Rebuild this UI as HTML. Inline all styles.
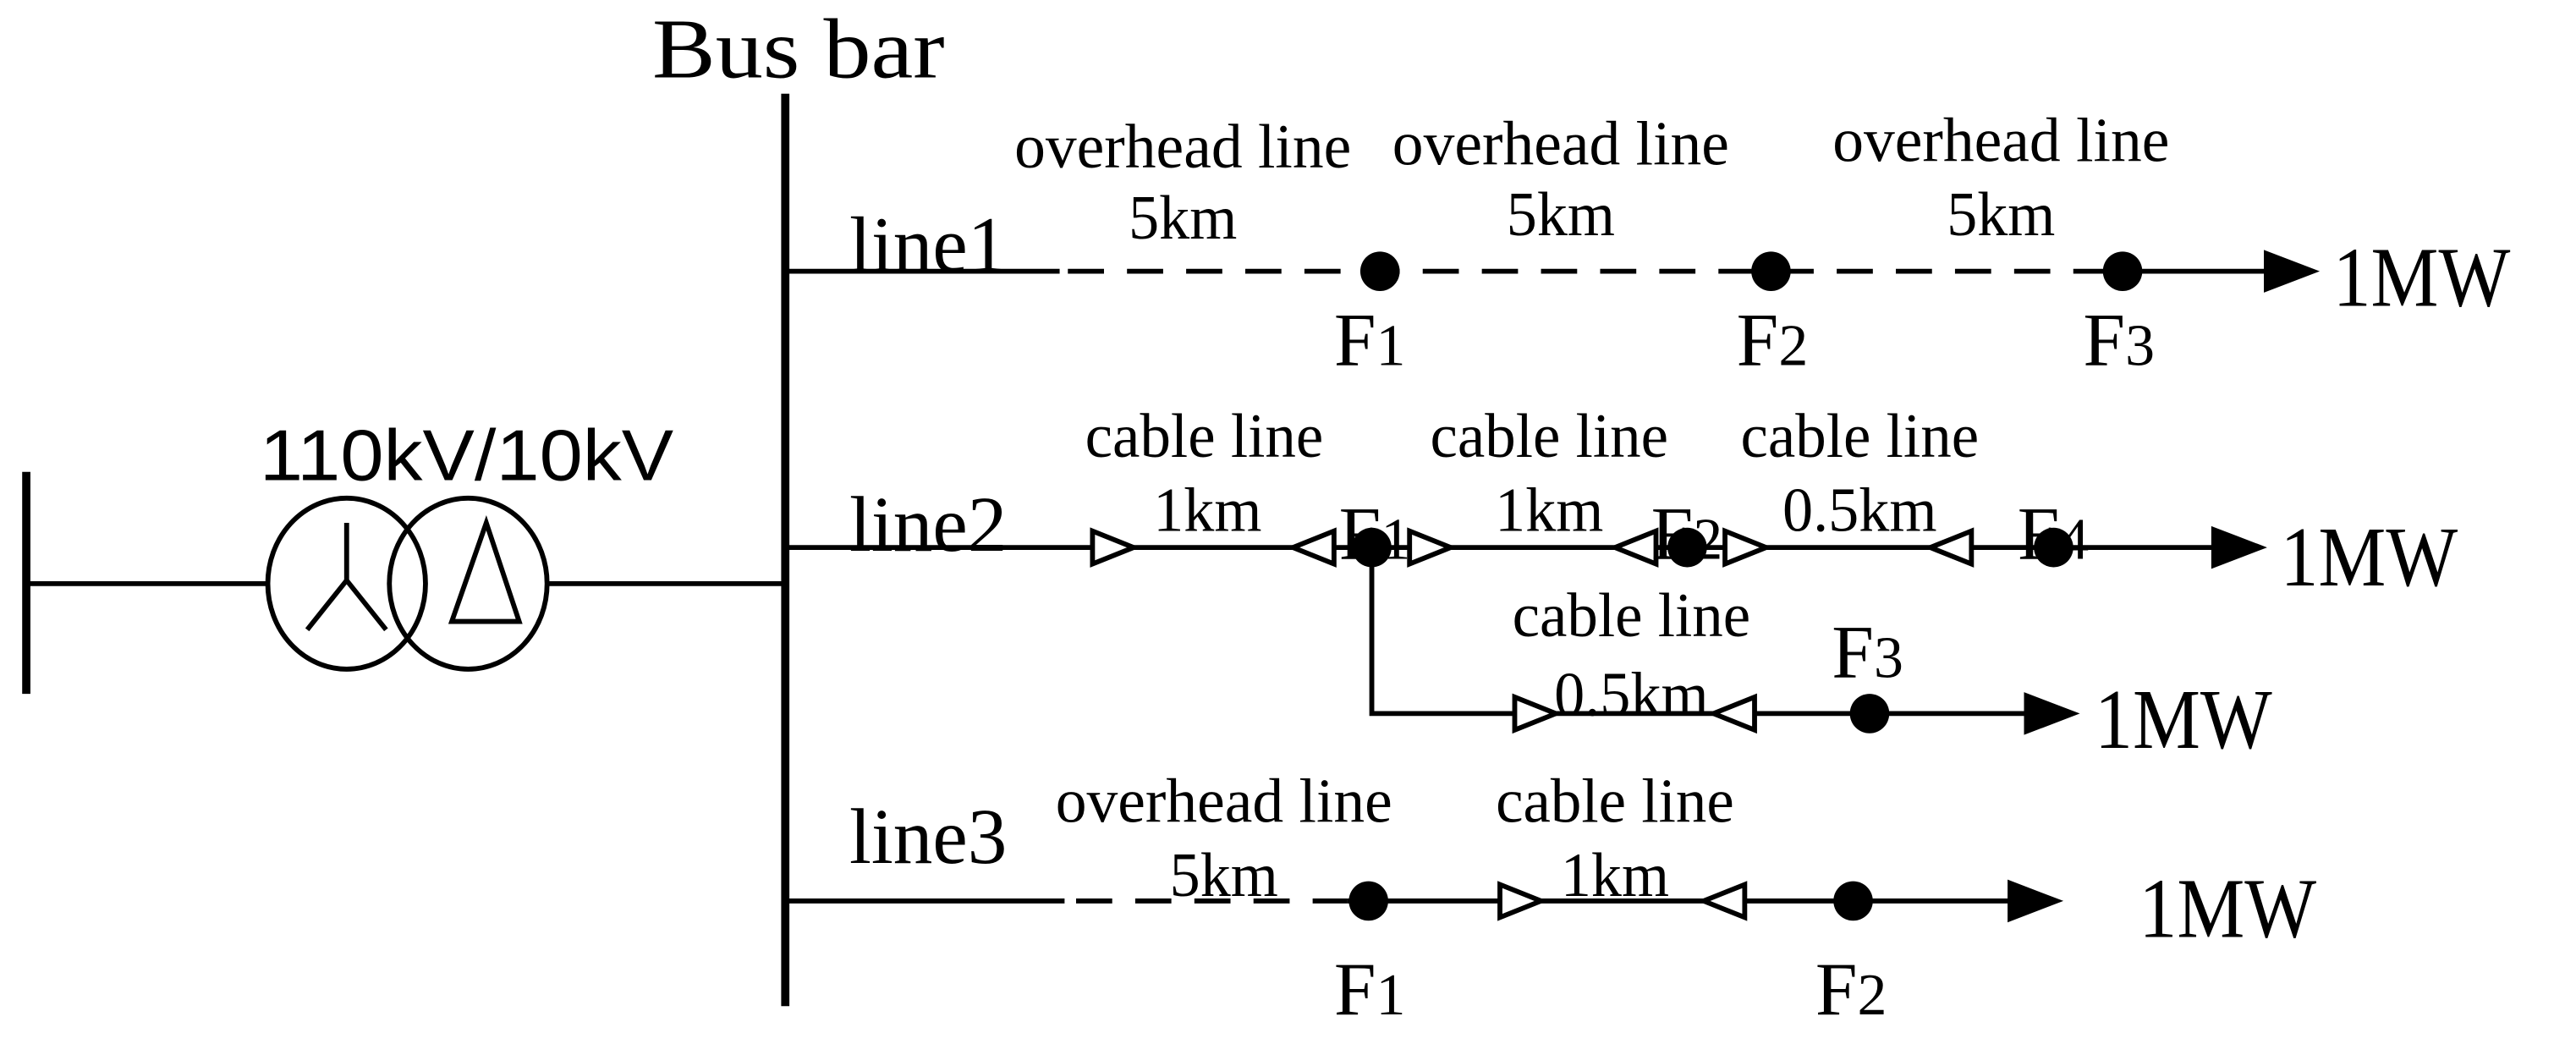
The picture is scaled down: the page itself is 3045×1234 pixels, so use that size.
<!DOCTYPE html>
<html><head><meta charset="utf-8"><style>
html,body{margin:0;padding:0;background:#fff;}
svg{display:block;}
text{font-family:"Liberation Serif",serif;fill:#000;}
.s{font-family:"Liberation Sans",sans-serif;}
</style></head><body>
<svg width="3045" height="1234" viewBox="0 0 1568 635" preserveAspectRatio="none" xmlns="http://www.w3.org/2000/svg">
<g stroke="#000" stroke-width="3" fill="none">
<line x1="478" y1="57" x2="478" y2="612" stroke-width="5"/>
<line x1="16" y1="287" x2="16" y2="422" stroke-width="5"/>
<line x1="16" y1="355" x2="163" y2="355"/>
<ellipse cx="211" cy="355" rx="48" ry="52"/>
<ellipse cx="285" cy="355" rx="48" ry="52"/>
<line x1="333" y1="355" x2="478" y2="355"/>
<polyline points="211,318 211,353"/>
<polyline points="187,383 211,353 235,383"/>
<polygon points="296,318 275,378 316,378"/>
<line x1="478" y1="165" x2="645" y2="165"/>
<line x1="650" y1="165" x2="1292" y2="165" stroke-dasharray="22,14"/>
<line x1="1292" y1="165" x2="1385" y2="165"/>
<line x1="478" y1="333" x2="1350" y2="333"/>
<polyline points="835,333 835,434 1235,434"/>
<line x1="478" y1="548" x2="648" y2="548"/>
<line x1="655" y1="548" x2="820" y2="548" stroke-dasharray="22,14"/>
<line x1="820" y1="548" x2="1225" y2="548"/>
<g fill="#fff">
<polygon points="665,323 665,343 690,333"/>
<polygon points="812,323 812,343 787,333"/>
<polygon points="858,323 858,343 883,333"/>
<polygon points="1008,323 1008,343 983,333"/>
<polygon points="1050,323 1050,343 1075,333"/>
<polygon points="1200,323 1200,343 1175,333"/>
<polygon points="922,424 922,444 947,434"/>
<polygon points="1068,424 1068,444 1043,434"/>
<polygon points="913,538 913,558 938,548"/>
<polygon points="1062,538 1062,558 1037,548"/>
</g>
</g>
<g fill="#000">
<circle cx="840" cy="165" r="12"/><circle cx="1078" cy="165" r="12"/><circle cx="1292" cy="165" r="12"/>
<circle cx="835" cy="333" r="12"/><circle cx="1027" cy="333" r="12"/><circle cx="1250" cy="333" r="12"/>
<circle cx="1138" cy="434" r="12"/>
<circle cx="833" cy="548" r="12"/><circle cx="1128" cy="548" r="12"/>
<polygon points="1378,152 1378,178 1412,165"/>
<polygon points="1346,320 1346,346 1380,333"/>
<polygon points="1232,421 1232,447 1266,434"/>
<polygon points="1222,535 1222,561 1256,548"/>
</g>
<text x="397" y="47" font-size="52" textLength="178" lengthAdjust="spacingAndGlyphs">Bus bar</text>
<text class="s" x="158" y="292" font-size="44" textLength="252" lengthAdjust="spacingAndGlyphs">110kV/10kV</text>
<text x="517" y="165" font-size="48" textLength="96" lengthAdjust="spacingAndGlyphs">line1</text>
<text x="517" y="335" font-size="48" textLength="96" lengthAdjust="spacingAndGlyphs">line2</text>
<text x="517" y="525" font-size="48" textLength="96" lengthAdjust="spacingAndGlyphs">line3</text>
<g font-size="38" text-anchor="middle">
<text x="720" y="102" textLength="205" lengthAdjust="spacingAndGlyphs">overhead line</text>
<text x="720" y="145" textLength="66" lengthAdjust="spacingAndGlyphs">5km</text>
<text x="950" y="100" textLength="205" lengthAdjust="spacingAndGlyphs">overhead line</text>
<text x="950" y="143" textLength="66" lengthAdjust="spacingAndGlyphs">5km</text>
<text x="1218" y="98" textLength="205" lengthAdjust="spacingAndGlyphs">overhead line</text>
<text x="1218" y="143" textLength="66" lengthAdjust="spacingAndGlyphs">5km</text>
<text x="733" y="278" textLength="145" lengthAdjust="spacingAndGlyphs">cable line</text>
<text x="735" y="323" textLength="66" lengthAdjust="spacingAndGlyphs">1km</text>
<text x="943" y="278" textLength="145" lengthAdjust="spacingAndGlyphs">cable line</text>
<text x="943" y="323" textLength="66" lengthAdjust="spacingAndGlyphs">1km</text>
<text x="1132" y="278" textLength="145" lengthAdjust="spacingAndGlyphs">cable line</text>
<text x="1132" y="323" textLength="94" lengthAdjust="spacingAndGlyphs">0.5km</text>
<text x="993" y="387" textLength="145" lengthAdjust="spacingAndGlyphs">cable line</text>
<text x="993" y="435" textLength="94" lengthAdjust="spacingAndGlyphs">0.5km</text>
<text x="745" y="500" textLength="205" lengthAdjust="spacingAndGlyphs">overhead line</text>
<text x="745" y="545" textLength="66" lengthAdjust="spacingAndGlyphs">5km</text>
<text x="983" y="500" textLength="145" lengthAdjust="spacingAndGlyphs">cable line</text>
<text x="983" y="545" textLength="66" lengthAdjust="spacingAndGlyphs">1km</text>
</g>
<g font-size="52">
<text x="1420" y="186" textLength="108" lengthAdjust="spacingAndGlyphs">1MW</text>
<text x="1388" y="356" textLength="108" lengthAdjust="spacingAndGlyphs">1MW</text>
<text x="1275" y="455" textLength="108" lengthAdjust="spacingAndGlyphs">1MW</text>
<text x="1302" y="570" textLength="108" lengthAdjust="spacingAndGlyphs">1MW</text>
</g>
<g font-size="46">
<text x="812" y="222">F<tspan font-size="36">1</tspan></text>
<text x="1057" y="222">F<tspan font-size="36">2</tspan></text>
<text x="1268" y="222">F<tspan font-size="36">3</tspan></text>
<text x="815" y="340">F<tspan font-size="36">1</tspan></text>
<text x="1005" y="340">F<tspan font-size="36">2</tspan></text>
<text x="1228" y="340">F<tspan font-size="36">4</tspan></text>
<text x="1115" y="412">F<tspan font-size="36">3</tspan></text>
<text x="812" y="617">F<tspan font-size="36">1</tspan></text>
<text x="1105" y="617">F<tspan font-size="36">2</tspan></text>
</g>
</svg>
</body></html>
